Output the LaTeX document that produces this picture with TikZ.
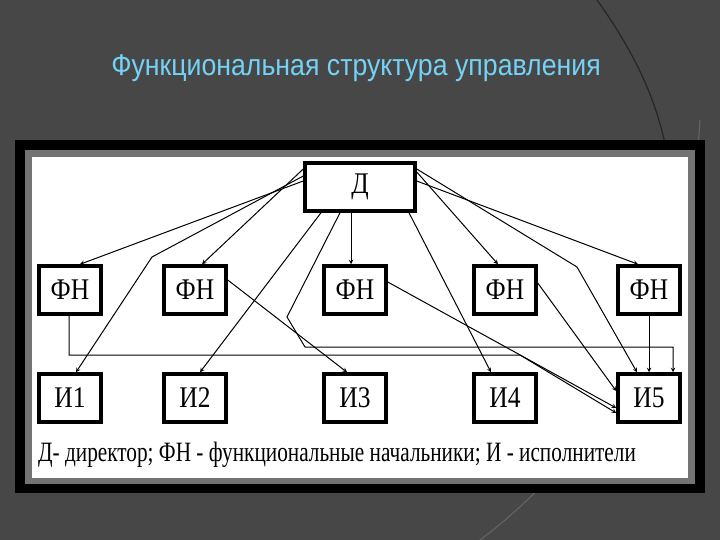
\documentclass[tikz,border=0pt]{standalone}
\usepackage{fontspec}
\setmainfont{Liberation Serif}
\newfontfamily\titlefont{Liberation Sans}
\newcommand{\bigsz}{\fontsize{30pt}{32pt}\selectfont}
\newcommand{\legsz}{\fontsize{28pt}{30pt}\selectfont}
\newcommand{\titsz}{\fontsize{30pt}{32pt}\selectfont}
\begin{document}
\begin{tikzpicture}[x=1pt,y=-1pt,
  bx/.style={draw=black,line width=3.5pt,fill=white,minimum width=62pt,minimum height=48pt,inner sep=0pt},
  lb/.style={font={\bigsz},xscale=0.85,inner sep=0pt},
  ar/.style={draw=black,line width=1pt,->,>=stealth}]
\fill[black!72] (0,0) rectangle (720,540);
\useasboundingbox (0,0) rectangle (720,540);
\draw[black!85,line width=1.2pt] (597,0) .. controls (640,60) and (660,110) .. (668,160);
\draw[black!60,line width=1pt] (700,120) .. controls (690,300) and (600,450) .. (480,540);
\node[font={\titlefont\titsz},text=cyan!55!white,xscale=0.89] (title) at (356,68) {Функциональная структура управления};
\fill[black] (15,140) rectangle (705,493);
\fill[black!55] (25,150) rectangle (695,484);
\fill[white] (32,157) rectangle (688,478);
\node[bx,minimum width=110pt] (d) at (360,187) {};
\node[lb] (dl) at (d) {Д};
\foreach \i/\x in {1/70,2/195,3/355,4/505,5/649}{
  \node[bx] (f\i) at (\x,290) {};
  \node[lb] (fl\i) at (f\i) {ФН};
  \node[bx] (e\i) at (\x,398) {};
  \node[lb] (el\i) at (e\i) {И\i};
}
\node[anchor=west,font={\legsz},inner sep=0pt,xscale=0.76] (leg) at (38,455) {Д- директор; ФН - функциональные начальники; И - исполнители};
\draw[ar] ([yshift=6]d.west) -- ([xshift=10]f1.north);
\draw[ar] ([yshift=11]d.west) -- (152,257) -- ([xshift=6]e1.north);
\draw[ar] ([yshift=18]d.west) -- ([xshift=7]f2.north);
\draw[ar] ([xshift=-39]d.south) -- ([xshift=5]e2.north);
\draw[ar] ([xshift=-20]d.south) -- (287,317) -- (305,347) -- (673,347) -- ([xshift=24]e5.north);
\draw[ar] ([xshift=-9]d.south) -- ([xshift=-4]f3.north);
\draw[ar] ([xshift=49]d.south) -- ([xshift=-14]e4.north);
\draw[ar] ([yshift=6]d.east) -- ([xshift=-11]f5.north);
\draw[ar] ([yshift=15]d.east) -- ([xshift=-7]f4.north);
\draw[ar] ([yshift=18]d.east) -- (577,267) -- ([xshift=-12]e5.north);
\draw[ar] ([xshift=-1]f1.south) -- (69,355) -- (520,355) -- ([yshift=-15]e5.west);
\draw[ar] ([yshift=10]f2.east) -- ([xshift=-8]e3.north);
\draw[ar] ([yshift=8]f3.east) -- ([yshift=-10]e5.west);
\draw[ar] ([yshift=7]f4.east) -- ([yshift=7]e5.west);
\draw[ar] (f5.south) -- (e5.north);
\end{tikzpicture}
\end{document}
